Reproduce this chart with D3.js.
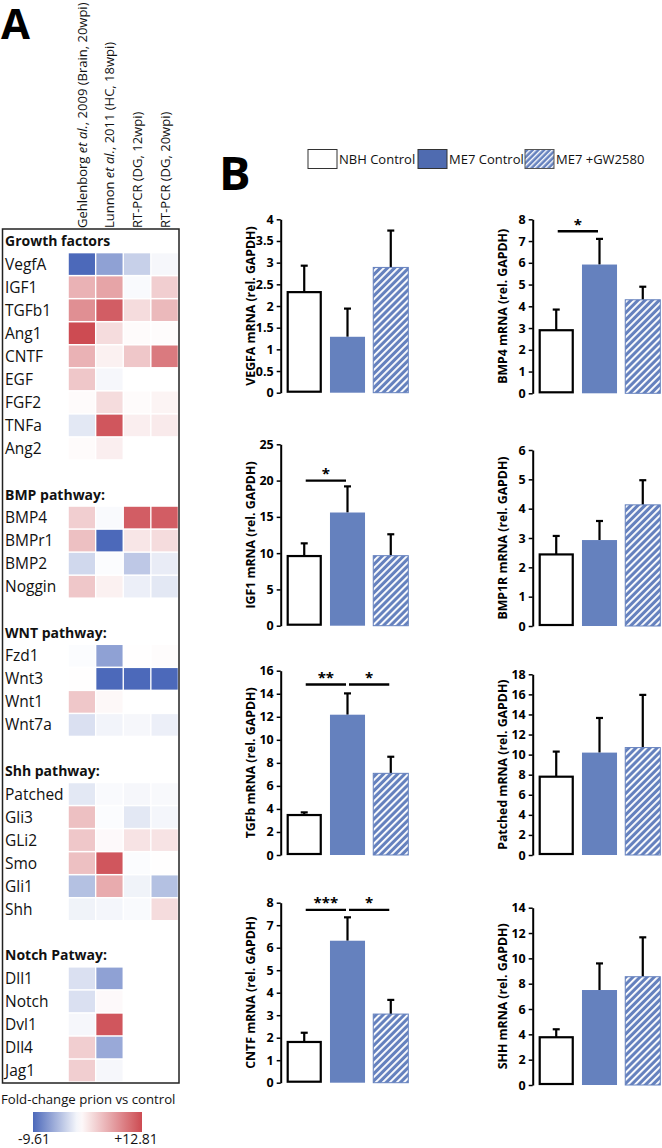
<!DOCTYPE html>
<html><head><meta charset="utf-8">
<script src="https://cdnjs.cloudflare.com/ajax/libs/d3/7.8.5/d3.min.js"></script>
<style>
html,body{margin:0;padding:0;background:#fff;}
svg{display:block;font-family:"Open Sans",sans-serif;}
</style></head>
<body><svg id="c" width="662" height="1148"></svg>
<script>
// ---------- Panel A data ----------
const heatColumns = ["Gehlenborg et al., 2009 (Brain, 20wpi)", "Lunnon et al., 2011 (HC, 18wpi)", "RT-PCR (DG, 12wpi)", "RT-PCR (DG, 20wpi)"];
const heatGroups = ["Growth factors", "BMP pathway:", "WNT pathway:", "Shh pathway:", "Notch Patway:"];
const growthGenes = ["VegfA","IGF1","TGFb1","Ang1","CNTF","EGF","FGF2","TNFa","Ang2"];
const growthValues = [
  [-9.6,-6.0,-3.0,-0.5],[5.5,6.5,-0.3,3.5],[8.0,11.5,2.5,5.0],[12.8,2.5,0.3,0.2],
  [5.5,1.0,4.0,9.5],[4.0,-0.5,null,null],[0.3,2.5,0.3,0.8],[-1.5,12.0,1.2,1.5],[0.3,1.2,null,null]];
const bmpGenes = ["BMP4","BMPr1","BMP2","Noggin"];
const bmpValues = [[3.5,-0.3,11.5,11.5],[4.5,-9.6,1.8,2.5],[-2.5,-0.2,-3.5,-1.2],[4.0,1.0,-1.0,-1.5]];
const wntGenes = ["Fzd1","Wnt3","Wnt1","Wnt7a"];
const wntValues = [[-0.2,-6.0,0.1,0.2],[0.1,-9.6,-9.6,-9.6],[4.0,0.5,null,null],[-2.0,-0.7,-0.5,-1.0]];
const shhGenes = ["Patched","Gli3","GLi2","Smo","Gli1","Shh"];
const shhValues = [[-1.5,-0.3,-0.5,-0.4],[4.5,-0.2,-1.5,-0.6],[4.0,0.4,2.0,2.0],[4.5,12.0,-0.2,0.1],[-4.0,6.0,-0.8,-4.0],[-0.8,-0.6,-0.3,2.5]];
const notchGenes = ["Dll1","Notch","Dvl1","Dll4","Jag1"];
const notchValues = [[-2.0,-6.0],[-2.0,0.4],[-0.5,12.0],[3.5,-5.5],[3.5,-0.5]];
const heatRange = [-9.61, 12.81];
const heatLegendTitle = "Fold-change prion vs control";
const heatLegendLabels = ["-9.61", "+12.81"];

// ---------- Panel B data ----------
const barGroups = ["NBH Control", "ME7 Control", "ME7 +GW2580"];
const barGenes = ["VEGFA","BMP4","IGF1","BMP1R","TGFb","Patched","CNTF","SHH"];
const barMeans = [[2.32,1.29,2.89],[2.9,5.92,4.3],[9.6,15.6,9.65],[2.44,2.93,4.13],[3.47,12.18,7.09],[7.8,10.2,10.7],[1.81,6.31,3.05],[3.77,7.5,8.55]];
const barErrors = [[0.61,0.65,0.85],[0.95,1.18,0.6],[1.75,3.6,2.95],[0.63,0.65,0.84],[0.23,1.85,1.44],[2.5,3.45,5.25],[0.41,1.04,0.63],[0.63,2.1,3.11]];
const yMax = [4,8,25,6,16,18,8,14];
const yStep = [0.5,1,5,1,2,2,1,2];
const sigChart = ["BMP4","IGF1","TGFb","TGFb","CNTF","CNTF"];
const sigFrom = [0,0,0,1,0,1];
const sigTo = [1,1,1,2,1,2];
const sigLevel = [7.45,20.0,14.8,14.8,7.68,7.68];
const sigLabel = ["*","*","**","*","***","*"];

// ---------- drawing ----------
const svg = d3.select("#c");
const BLUE = "#6581be";
const defs = svg.append("defs");
function hatch(id, period, white){
  const p = defs.append("pattern").attr("id", id).attr("patternUnits","userSpaceOnUse")
    .attr("width", period).attr("height", period).attr("patternTransform","rotate(45)");
  p.append("rect").attr("width",period).attr("height",period).attr("fill",BLUE);
  p.append("rect").attr("x",0).attr("width",white).attr("height",period).attr("fill","#fff");
}
hatch("hatch", 5, 1.9);
hatch("hatchS", 4, 1.4);

// Panel labels
svg.append("text").attr("x",1).attr("y",39).attr("font-size",42).attr("font-weight",700).text("A");
svg.append("text").attr("x",219).attr("y",190).attr("font-size",47).attr("font-weight",700).text("B");

// ---- Heatmap ----
const groupsData = [[growthGenes,growthValues],[bmpGenes,bmpValues],[wntGenes,wntValues],[shhGenes,shhValues],[notchGenes,notchValues]];
const slots = [];
groupsData.forEach(([genes, vals], gi) => {
  slots.push({key:"h"+gi, type:"header", label:heatGroups[gi]});
  genes.forEach((g,i) => slots.push({key:"g"+g, type:"gene", label:g, values:vals[i]}));
  if (gi < groupsData.length-1) slots.push({key:"b"+gi, type:"blank"});
});
const rowScale = d3.scaleBand().domain(slots.map(d=>d.key)).range([230.3, 230.3+slots.length*23]).paddingInner(0.065).paddingOuter(0);
const colScale = d3.scaleBand().domain(heatColumns).range([68.5, 178]).paddingInner(0.05).paddingOuter(0.01);
const heatColor = d3.scaleDiverging().domain([heatRange[0], 0, heatRange[1]])
  .interpolator(d3.piecewise(d3.interpolateRgb, ["#4c69ba","#ffffff","#cd4b52"]));

svg.append("rect").attr("x",2.5).attr("y",229).attr("width",176.5).attr("height",854)
  .attr("fill","none").attr("stroke","#222").attr("stroke-width",1.5);

const hm = svg.append("g");
slots.forEach(s => {
  const yc = rowScale(s.key) + rowScale.bandwidth()/2;
  if (s.type === "header") {
    hm.append("text").attr("x",5).attr("y",yc+5).attr("font-size",14).attr("font-weight",700).attr("fill","#111").text(s.label);
  } else if (s.type === "gene") {
    hm.append("text").attr("x",5).attr("y",yc+5.5).attr("font-size",15.5).attr("fill","#111").text(s.label);
    s.values.forEach((v,ci) => {
      if (v === null || v === undefined) return;
      hm.append("rect").attr("x",colScale(heatColumns[ci])).attr("y",rowScale(s.key))
        .attr("width",colScale.bandwidth()).attr("height",rowScale.bandwidth()).attr("fill",heatColor(v));
    });
  }
});

// column headers
heatColumns.forEach((c,i) => {
  const xc = colScale(c) + colScale.bandwidth()/2;
  const t = svg.append("text").attr("transform",`translate(${xc+5},228) rotate(-90)`).attr("font-size",13).attr("fill","#111");
  const m = c.match(/^(.*?)(et al\.)(.*)$/);
  if (m) {
    t.append("tspan").text(m[1]);
    t.append("tspan").attr("font-style","italic").text(m[2]);
    t.append("tspan").text(m[3]);
  } else t.text(c);
});

// heat legend
svg.append("text").attr("x",1).attr("y",1104).attr("font-size",13.2).attr("fill","#111").text(heatLegendTitle);
const lg = defs.append("linearGradient").attr("id","hg");
const legX = d3.scaleLinear().domain(heatRange).range([33,142]);
d3.range(0,1.0001,0.05).forEach(t => {
  const v = heatRange[0] + t*(heatRange[1]-heatRange[0]);
  lg.append("stop").attr("offset",t).attr("stop-color",heatColor(v));
});
svg.append("rect").attr("x",legX(heatRange[0])).attr("y",1112).attr("width",legX(heatRange[1])-legX(heatRange[0])).attr("height",20).attr("fill","url(#hg)");
svg.append("text").attr("x",legX(heatRange[0])+1).attr("y",1144).attr("text-anchor","middle").attr("font-size",14).attr("fill","#111").text(heatLegendLabels[0]);
svg.append("text").attr("x",legX(heatRange[1])-6).attr("y",1144).attr("text-anchor","middle").attr("font-size",14).attr("fill","#111").text(heatLegendLabels[1]);

// ---- Bar legend ----
const legItems = [{x:308, fill:"#fff", stroke:"#333"},{x:418, fill:"#4f6bb0", stroke:"#333"},{x:525, fill:"url(#hatchS)", stroke:"#555"}];
barGroups.forEach((g,i) => {
  const it = legItems[i];
  svg.append("rect").attr("x",it.x).attr("y",149.5).attr("width",29).attr("height",19).attr("fill",it.fill).attr("stroke",it.stroke).attr("stroke-width",1);
  svg.append("text").attr("x",it.x+31).attr("y",164).attr("font-size",13).attr("fill","#111").text(g);
});

// ---- Bar charts ----
const axisXs = [280.7, 532.7];
const chartTop = [219.3,219.3,444.3,450,670.7,674.3,902.7,907.7];
const chartBottom = [392.7,393.3,625.7,626,855,855,1082.7,1085];
const barFill = ["#fff", BLUE, "url(#hatch)"];

barGenes.forEach((gene, ci) => {
  const ax = axisXs[ci % 2];
  const y = d3.scaleLinear().domain([0, yMax[ci]]).range([chartBottom[ci], chartTop[ci]]);
  const x = d3.scaleBand().domain(barGroups).range([ax+6, ax+6+121.6]).paddingInner(0.19).paddingOuter(0);
  const g = svg.append("g");
  const axis = d3.axisLeft(y).tickValues(d3.range(0, yMax[ci]+yStep[ci]/2, yStep[ci]))
    .tickSize(4).tickSizeOuter(0).tickPadding(3).tickFormat(d3.format("~g"));
  const ag = g.append("g").attr("transform",`translate(${ax},0)`).call(axis);
  ag.select(".domain").attr("stroke","#000").attr("stroke-width",2);
  ag.selectAll(".tick line").attr("stroke","#000").attr("stroke-width",1.5);
  ag.selectAll(".tick text").attr("font-size",12.5).attr("font-weight",700).attr("fill","#000").attr("font-family","Open Sans, sans-serif");
  // y label
  g.append("text").attr("transform",`translate(${ax-26},${(chartTop[ci]+chartBottom[ci])/2}) rotate(-90)`)
    .attr("text-anchor","middle").attr("font-size",12.3).attr("font-weight",700).attr("fill","#000")
    .text(gene + " mRNA (rel. GAPDH)");
  // bars
  barGroups.forEach((bg, bi) => {
    const v = barMeans[ci][bi], e = barErrors[ci][bi];
    const bx = x(bg), bw = x.bandwidth();
    const cx = bx + bw/2;
    // error bar
    g.append("line").attr("x1",cx).attr("x2",cx).attr("y1",y(v)).attr("y2",y(v+e)).attr("stroke","#000").attr("stroke-width",2.2);
    g.append("line").attr("x1",cx-3.5).attr("x2",cx+3.5).attr("y1",y(v+e)).attr("y2",y(v+e)).attr("stroke","#000").attr("stroke-width",2.2);
    if (bi === 0) {
      g.append("rect").attr("x",bx+1).attr("y",y(v)).attr("width",bw-2).attr("height",y(0)-y(v)-1)
        .attr("fill","#fff").attr("stroke","#000").attr("stroke-width",2.2);
    } else {
      g.append("rect").attr("x",bx).attr("y",y(v)).attr("width",bw).attr("height",y(0)-y(v))
        .attr("fill",barFill[bi]).attr("stroke", bi===2 ? BLUE : "none").attr("stroke-width",1);
    }
  });
  // significance
  sigChart.forEach((sc, si) => {
    if (sc !== gene) return;
    const x1 = x(barGroups[sigFrom[si]]) + x.bandwidth()/2 + 1.5;
    const x2 = x(barGroups[sigTo[si]]) + x.bandwidth()/2 - 1.5;
    const yy = y(sigLevel[si]);
    g.append("line").attr("x1",x1).attr("x2",x2).attr("y1",yy).attr("y2",yy).attr("stroke","#000").attr("stroke-width",2.4);
    g.append("text").attr("x",(x1+x2)/2).attr("y",yy-1.5).attr("text-anchor","middle").attr("font-size",15).attr("font-weight",700).text(sigLabel[si]);
  });
});
</script></body></html>
